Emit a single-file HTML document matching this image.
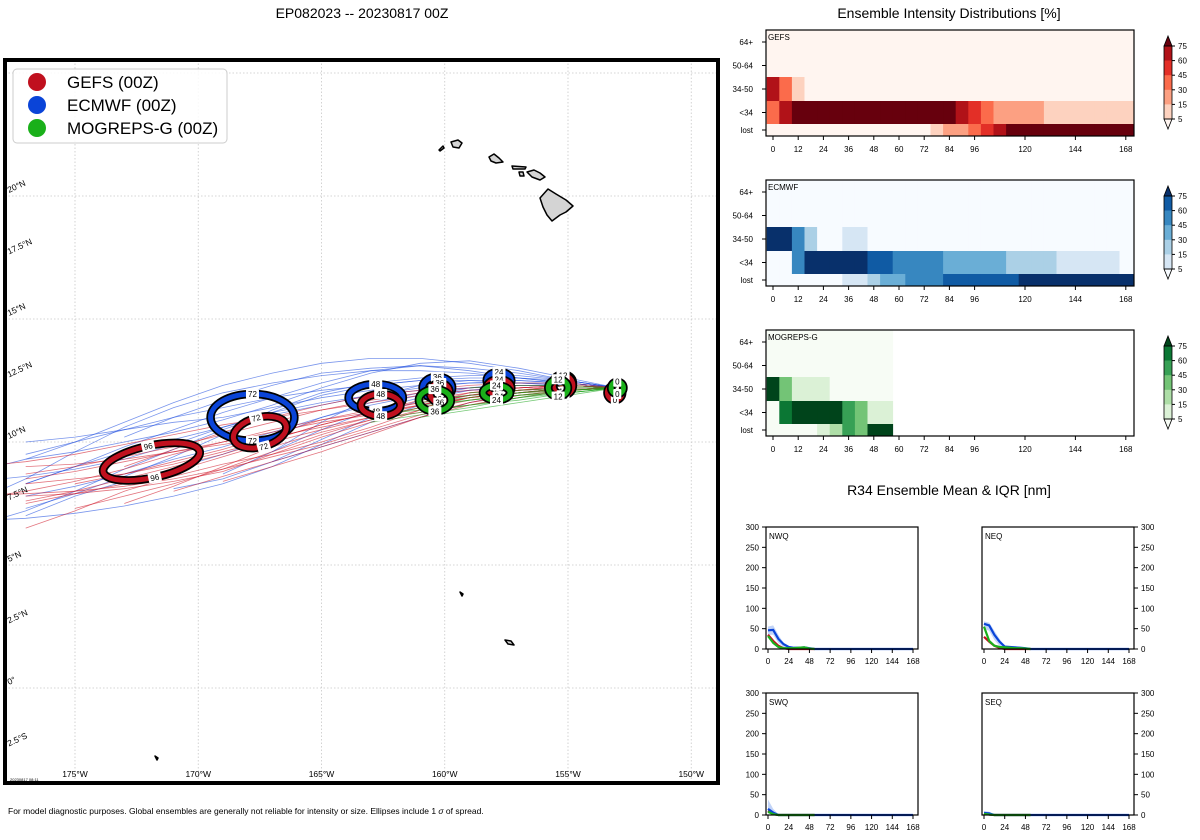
<!DOCTYPE html>
<html><head><meta charset="utf-8">
<style>
html,body{margin:0;padding:0;background:#fff;}
svg{display:block;font-family:"Liberation Sans","DejaVu Sans",sans-serif;}
</style></head>
<body>
<svg id="root" width="1200" height="840" viewBox="0 0 1200 840">
  <rect width="1200" height="840" fill="#fff"/>
  <text x="362" y="18" font-size="14" text-anchor="middle">EP082023 -- 20230817 00Z</text>
  <text x="949" y="18" font-size="14" text-anchor="middle">Ensemble Intensity Distributions [%]</text>
  <text x="949" y="495" font-size="14" text-anchor="middle">R34 Ensemble Mean &amp; IQR [nm]</text>
  <text x="8" y="814" font-size="8.5">For model diagnostic purposes. Global ensembles are generally not reliable for intensity or size. Ellipses include 1 <tspan font-style="italic">σ</tspan> of spread.</text>
  <defs><clipPath id="mapclip"><rect x="5" y="60" width="713" height="723"/></clipPath></defs>
  <g id="map"></g>
  <g id="heat"></g>
  <g id="r34"></g>
</svg>
<script>
// ---------------- MAP DATA ----------------
const trackLons = [-153,-155,-157,-159,-161,-163,-165,-167,-169,-171,-173,-175,-177,-179];
const gefsTracks = [
 [12.2,12.3,12.2,12.0,11.7,11.2,10.7,10.1,9.5,9.0,8.5,8.0,7.6],
 [12.2,12.2,12.0,11.8,11.4,10.9,10.3,9.6,8.9,8.3,7.8,7.3],
 [12.2,12.3,12.3,12.2,12.0,11.7,11.3,10.8,10.3,9.8,9.4,9.0,8.7],
 [12.2,12.1,11.9,11.5,11.0,10.4,9.8,9.2,8.6,8.0],
 [12.2,12.3,12.1,11.9,11.6,11.2,10.9,10.5,10.0,9.6,9.2,8.8,8.5],
 [12.2,12.2,12.1,11.8,11.3,10.6,10.0,9.5,9.1,8.6,8.0,7.2,6.5],
 [12.2,12.4,12.4,12.3,12.1,11.9,11.5,11.0,10.4,9.7,9.0],
 [12.2,12.2,12.0,11.7,11.3,10.8,10.2,9.5,8.8,8.4,8.1,7.9,7.8],
 [12.2,12.3,12.2,12.0,11.5,11.0,10.6,10.2,9.9,9.6,9.3,9.1,9.0],
 [12.2,12.1,11.8,11.5,11.2,10.9,10.4,9.8,9.0,8.2,7.5],
 [12.2,12.2,12.1,11.9,11.6,11.3,10.9,10.3,9.7,9.2,8.7,8.3],
 [12.2,12.3,12.1,11.8,11.4,11.0,10.5,10.0,9.4,8.8,8.3,7.9,7.5],
 [12.2,12.1,11.9,11.6,11.1,10.5,9.9,9.4,8.9,8.5,8.2,8.0,7.9,7.8],
 [12.2,12.3,12.2,12.1,11.9,11.6,11.3,11.0,10.7,10.3,9.9,9.5,9.2,9.0],
 [12.2,12.2,12.0,11.6,11.0,10.3,9.6,9.0,8.4],
 [12.2,12.3,12.2,11.9,11.5,11.1,10.8,10.4,10.0,9.5,8.9,8.4,8.0,7.7],
 [12.2,12.1,12.0,11.8,11.5,11.2,10.7,10.1,9.6,9.1,8.7,8.5,8.3]
];
const ecmwfTracks = [
 [12.2,12.5,12.6,12.6,12.5,12.3,12.1,11.8,11.4,11.0,10.5,10.0,9.5],
 [12.2,12.4,12.6,12.9,13.1,13.0,12.8,12.3,11.7,11.0,10.2],
 [12.2,12.3,12.2,12.1,11.9,11.5,11.0,10.4,9.8,9.3,8.7,8.2,7.8],
 [12.2,12.5,12.8,13.0,13.1,12.9,12.4,11.8,11.2,10.5,9.8,9.0,8.3],
 [12.2,12.3,12.3,12.2,12.0,11.6,11.0,10.2,9.5,8.9,8.4,7.8,7.0],
 [12.2,12.4,12.4,12.2,11.8,11.3,10.5,9.6,8.7],
 [12.2,12.6,13.0,13.3,13.2,12.8,12.2,11.5,10.9,10.4,10.0,9.6,9.3],
 [12.2,12.3,12.4,12.4,12.3,12.1,11.8,11.4,11.0,10.8,10.5,10.2,10.0],
 [12.2,12.2,12.0,11.6,11.0,10.4,9.8,9.2],
 [12.2,12.4,12.5,12.4,12.2,11.9,11.5,11.1,10.6,10.1,9.6,9.0,8.3],
 [12.2,12.5,12.7,12.7,12.6,12.4,12.0,11.3,10.3,9.4,8.6,7.9,7.3],
 [12.2,12.3,12.3,12.1,11.7,11.0,10.1,9.2,8.5,8.1],
 [12.2,12.4,12.6,12.8,12.9,12.9,12.7,12.4,12.0,11.4,10.6,9.6,8.5,7.6],
 [12.2,12.3,12.4,12.5,12.5,12.3,11.9,11.2,10.5,9.7,8.9,8.0,7.2,6.6],
 [12.2,12.2,12.1,11.9,11.5,10.8,9.9,9.0,8.3,7.8,7.4,7.1,6.9,6.8],
 [12.2,12.5,12.9,13.2,13.4,13.4,13.2,12.8,12.3,11.6,10.8,10.0,9.3,8.8],
 [12.2,12.3,12.3,12.2,12.1,11.9,11.6,11.2,10.6,9.9,9.3,8.9,8.6,8.4],
 [12.2,12.4,12.5,12.5,12.3,11.8,10.8,9.6]
];
const mogTracks = [
 [12.2,12.1,12.0,11.8,11.6],
 [12.2,12.0,11.8,11.5,11.2,10.9],
 [12.2,12.2,12.1,12.0],
 [12.2,11.9,11.6,11.3,11.0],
 [12.2,12.1,11.9,11.7,11.4,11.0],
 [12.2,12.3,12.3,12.2],
 [12.2,12.0,11.9,11.7,11.5],
 [12.2,12.1,11.8,11.4,11.1,10.8],
 [12.2,12.2,12.0,11.9,11.7],
 [12.2,12.0,11.7,11.5,11.3,11.1]
];
const gefsEllHours = [0,12,24,36,48,72,96];
const gefsEllLon = [-153.1,-155.2,-157.8,-160.2,-162.6,-167.5,-171.9];
const gefsEllLat = [12.0,12.3,12.2,12.0,11.5,10.4,9.2];
const gefsEllRx = [0.3,0.4,0.5,0.4,0.8,1.1,2.0];
const gefsEllRy = [0.3,0.4,0.35,0.4,0.45,0.6,0.65];
const gefsEllAng = [0,0,0,0,0,-15,-12];
const ecEllHours = [12,24,36,48,72];
const ecEllLon = [-155.2,-157.8,-160.3,-162.8,-167.8];
const ecEllLat = [12.4,12.5,12.2,11.8,11.0];
const ecEllRx = [0.4,0.5,0.6,1.1,1.7];
const ecEllRy = [0.35,0.35,0.45,0.55,0.95];
const ecEllAng = [0,0,0,0,0];
const mogEllHours = [0,12,24,36];
const mogEllLon = [-153.0,-155.4,-157.9,-160.4];
const mogEllLat = [12.2,12.2,12.0,11.7];
const mogEllRx = [0.25,0.4,0.55,0.65];
const mogEllRy = [0.25,0.35,0.3,0.45];
const mogEllAng = [0,0,0,0];
const lonTicks = [-175,-170,-165,-160,-155,-150];
const lonTickLabels = ["175°W","170°W","165°W","160°W","155°W","150°W"];
const latTicks = [20,17.5,15,12.5,10,7.5,5,2.5,0,-2.5];
const latTickLabels = ["20°N","17.5°N","15°N","12.5°N","10°N","7.5°N","5°N","2.5°N","0°","2.5°S"];
const latGrid = [0,5,10,15,20,25];

// ---------------- HEATMAP DATA ----------------
const hmHours = [0,6,12,18,24,30,36,42,48,54,60,66,72,78,84,90,96,102,108,114,120,126,132,138,144,150,156,162,168];
const hmRowLabels = ["64+","50-64","34-50","<34","lost"];
const hmXTicks = [0,12,24,36,48,60,72,84,96,120,144,168];
const cbLevels = [5,15,30,45,60,75];
const Z29 = [0,0,0,0,0,0,0,0,0,0,0,0,0,0,0,0,0,0,0,0,0,0,0,0,0,0,0,0,0];
const gefs64 = Z29, gefs50 = Z29;
const gefs34 = [65,35,10,0,0,0,0,0,0,0,0,0,0,0,0,0,0,0,0,0,0,0,0,0,0,0,0,0,0];
const gefsTS = [35,65,80,80,80,80,80,80,80,80,80,80,80,80,80,65,50,35,20,20,20,20,10,10,10,10,10,10,10];
const gefsLost = [0,0,0,0,0,0,0,0,0,0,0,0,0,10,20,20,35,50,65,80,80,80,80,80,80,80,80,80,80];
const ec64 = Z29, ec50 = Z29;
const ec34 = [80,80,50,20,0,0,10,10,0,0,0,0,0,0,0,0,0,0,0,0,0,0,0,0,0,0,0,0,0];
const ecTS = [0,0,50,80,80,80,80,80,65,65,50,50,50,50,35,35,35,35,35,20,20,20,20,10,10,10,10,10,0];
const ecLost = [0,0,0,0,0,0,10,10,20,35,35,50,50,50,65,65,65,65,65,65,80,80,80,80,80,80,80,80,80];
const mog64 = [0,0,0,0,0,0,0,0,0,0];
const mog50 = [0,0,0,0,0,0,0,0,0,0];
const mog34 = [80,35,10,10,10,0,0,0,0,0];
const mogTS = [0,65,80,80,80,80,50,35,10,10];
const mogLost = [0,0,0,0,10,20,50,35,80,80];

// ---------------- R34 DATA ----------------
const r34Hours = [0,6,12,18,24,30,36,42,48,54,60,66,72,78,84,90,96,102,108,114,120,126,132,138,144,150,156,162,168];
const r34YTicks = [0,50,100,150,200,250,300];
const r34XTicks = [0,24,48,72,96,120,144,168];
const nwqEc = [46,47,25,12,5,3,3,4,2,0,0,0,0,0,0,0,0,0,0,0,0,0,0,0,0,0,0,0,0];
const nwqEcHi = [55,58,35,15,6,4,4,5,3,0,0,0,0,0,0,0,0,0,0,0,0,0,0,0,0,0,0,0,0];
const nwqEcLo = [35,35,15,5,2,1,1,1,0,0,0,0,0,0,0,0,0,0,0,0,0,0,0,0,0,0,0,0,0];
const nwqGefs = [35,20,8,2,0,0,0,0,0,0];
const nwqMog = [32,15,5,2,2,2,3,4,1,0];
const neqEc = [62,58,35,18,6,5,4,3,2,0,0,0,0,0,0,0,0,0,0,0,0,0,0,0,0,0,0,0,0];
const neqEcHi = [68,65,45,25,8,6,5,4,3,0,0,0,0,0,0,0,0,0,0,0,0,0,0,0,0,0,0,0,0];
const neqEcLo = [50,45,22,8,3,2,2,1,0,0,0,0,0,0,0,0,0,0,0,0,0,0,0,0,0,0,0,0,0];
const neqGefs = [30,18,8,3,0,0,0,0,0,0];
const neqMog = [55,20,8,5,4,3,2,2,1,0];
const swqEc = [15,6,0,0,0,0,0,0,0,0,0,0,0,0,0,0,0,0,0,0,0,0,0,0,0,0,0,0,0];
const swqEcHi = [38,15,2,0,0,0,0,0,0,0,0,0,0,0,0,0,0,0,0,0,0,0,0,0,0,0,0,0,0];
const swqEcLo = [5,0,0,0,0,0,0,0,0,0,0,0,0,0,0,0,0,0,0,0,0,0,0,0,0,0,0,0,0];
const swqGefs = [10,3,0,0,0,0,0,0,0,0];
const swqMog = [8,2,0,0,0,0,0,0,0,0];
const seqEc = [5,4,0,0,0,0,0,0,0,0,0,0,0,0,0,0,0,0,0,0,0,0,0,0,0,0,0,0,0];
const seqEcHi = [10,8,1,0,0,0,0,0,0,0,0,0,0,0,0,0,0,0,0,0,0,0,0,0,0,0,0,0,0];
const seqEcLo = [0,0,0,0,0,0,0,0,0,0,0,0,0,0,0,0,0,0,0,0,0,0,0,0,0,0,0,0,0];
const seqGefs = [4,1,0,0,0,0,0,0,0,0];
const seqMog = [3,1,0,0,0,0,0,0,0,0];

const NS = "http://www.w3.org/2000/svg";
function mk(tag, attrs, parent){ const e=document.createElementNS(NS,tag); for(const k in attrs) e.setAttribute(k,attrs[k]); if(parent) parent.appendChild(e); return e; }
function txt(s, attrs, parent){ const e=mk("text",attrs,parent); e.textContent=s; return e; }

// ================= MAP =================
const map = document.getElementById("map");
const lonX = lon => 75 + (lon+175)*24.65;
const latY = lat => 688 - lat*24.6;
const mg = mk("g",{"clip-path":"url(#mapclip)"},map);
lonTicks.forEach(l=>{ const e=mk("line",{x1:lonX(l),x2:lonX(l),y1:60,y2:783,stroke:"#c8c8c8","stroke-width":0.8,"stroke-dasharray":"1.5,2"},mg);
 
  });
latGrid.forEach(l=>{ const e=mk("line",{x1:5,x2:718,y1:latY(l),y2:latY(l),stroke:"#c8c8c8","stroke-width":0.8,"stroke-dasharray":"1.5,2"},mg);
 
  });
const islands = [
 "M540,198 L548,189 L556,194 L566,200 L573,206 L566,212 L560,215 L552,221 L547,215 L543,207 Z",
 "M527,172 L534,170 L540,173 L545,177 L540,180 L532,177 Z",
 "M512,166 L526,167 L525,169 L513,169 Z",
 "M519,172 L523,172 L524,176 L520,176 Z",
 "M489,157 L494,154 L499,158 L503,162 L496,163 L491,161 Z",
 "M451,142 L458,140 L462,143 L459,148 L453,147 Z",
 "M439,150 L443,146 L444,148 L440,151 Z",
 "M460,592 L463,594 L462,596 Z",
 "M505,640 L511,641 L514,645 L508,644 Z",
 "M155,756 L158,758 L157,760 Z"
];
islands.forEach(d=>{ const e=mk("path",{d:d,fill:"#d4d4d4",stroke:"#000","stroke-width":1.5,"stroke-linejoin":"round"},mg);
 
  });
function drawTracks(tracks,color,name){
 tracks.forEach(t=>{ const pts=t.map((lat,i)=>lonX(trackLons[i]).toFixed(1)+","+latY(lat).toFixed(1)).join(" ");
  const e=mk("polyline",{points:pts,fill:"none",stroke:color,"stroke-width":0.8,"stroke-opacity":0.6},mg);
  
   });
}
drawTracks(ecmwfTracks,"#1f4fe0","ecmwf-member-track");
drawTracks(gefsTracks,"#d0192a","gefs-member-track");
drawTracks(mogTracks,"#1aa51a","mogreps-member-track");
const degPx = 24.65;
function drawEll(hours,lons,lats,rxs,rys,angs,color,name){
 hours.forEach((h,i)=>{ const cx=lonX(lons[i]), cy=latY(lats[i]), rx=rxs[i]*degPx, ry=rys[i]*degPx;
  const g=mk("g",{transform:`rotate(${angs[i]} ${cx} ${cy})`},mg);
  
  
  mk("ellipse",{cx:cx,cy:cy,rx:rx,ry:ry,fill:"none",stroke:"#000","stroke-width":8.5},g);
  mk("ellipse",{cx:cx,cy:cy,rx:rx,ry:ry,fill:"none",stroke:color,"stroke-width":5},g);
  [cy-ry, cy+ry].forEach(yy=>{
   const s=String(h), w=s.length*5+3;
   mk("rect",{x:cx-w/2,y:yy-5,width:w,height:10,fill:"#fff",rx:1},g);
   const t=txt(s,{x:cx,y:yy+3,"font-size":8,"text-anchor":"middle",fill:"#000"},g);
   
   
  });
 });
}
drawEll(ecEllHours,ecEllLon,ecEllLat,ecEllRx,ecEllRy,ecEllAng,"#0a44d8","ecmwf-mean-ellipse");
drawEll(gefsEllHours,gefsEllLon,gefsEllLat,gefsEllRx,gefsEllRy,gefsEllAng,"#c0101e","gefs-mean-ellipse");
drawEll(mogEllHours,mogEllLon,mogEllLat,mogEllRx,mogEllRy,mogEllAng,"#1ab01a","mogreps-mean-ellipse");
lonTicks.forEach((l,i)=>{ const t=txt(lonTickLabels[i],{x:lonX(l),y:777,"font-size":8.5,"text-anchor":"middle"},map);
 
  });
latTicks.forEach((l,i)=>{ const y=latY(l)-3; const t=txt(latTickLabels[i],{x:9,y:y,"font-size":8.5,transform:`rotate(-25 9 ${y})`},map);
 
  });
txt("20230817 08:11",{x:10,y:781,"font-size":4},map);
const frame=mk("rect",{x:5,y:60,width:713,height:723,fill:"none",stroke:"#000","stroke-width":4},map);


const lg=mk("g",{},map);


mk("rect",{x:13,y:69,width:214,height:74,rx:4,fill:"#fff","fill-opacity":0.85,stroke:"#ccc"},lg);
[["GEFS (00Z)","#c0101e",82],["ECMWF (00Z)","#0a44d8",105],["MOGREPS-G (00Z)","#1ab01a",128]].forEach(e=>{
 const it=mk("g",{},lg);
 
 
 mk("circle",{cx:37,cy:e[2],r:9,fill:e[1]},it);
 txt(e[0],{x:67,y:e[2]+6,"font-size":17},it);
});

// ================= HEATMAPS =================
const heat=document.getElementById("heat");
const hx = h => 773 + h*2.1;
const rowEdges=[0,24,47,71,94,106];
const palettes={
 gefs:["#fff5f0","#fdd2bf","#fca082","#fb6b4b","#e32f27","#b11218","#67000d"],
 ec:["#f7fbff","#d6e6f4","#abd0e6","#6aaed6","#3787c0","#105ba4","#08306b"],
 mog:["#f7fcf5","#dbf1d6","#aedea7","#73c476","#37a055","#0b7734","#00441b"]
};
function bin(v){ let b=0; cbLevels.forEach((l,i)=>{ if(v>=l) b=i+1; }); return b; }
function heatPanel(top,label,rows,pal,name){
 const g=mk("g",{},heat);
 
 
 rows.forEach((row,r)=>{
  row.forEach((v,c)=>{
   const h=hmHours[c]; const x0=Math.max(766,hx(h-3)); const x1=(h===168)?1134:hx(h+3);
   const cell=mk("rect",{x:x0,y:top+rowEdges[r],width:x1-x0+0.4,height:rowEdges[r+1]-rowEdges[r]+0.4,fill:pal[bin(v)]},g);
   
   
  });
 });
 mk("rect",{x:766,y:top,width:368,height:106,fill:"none",stroke:"#000","stroke-width":1.2},g);
 txt(label,{x:768,y:top+10,"font-size":8},g);
 hmRowLabels.forEach((l,r)=>{ const y=top+(rowEdges[r]+rowEdges[r+1])/2;
  mk("line",{x1:762,x2:766,y1:y,y2:y,stroke:"#000"},g);
  const t=txt(l,{x:753,y:y+3,"font-size":8,"text-anchor":"end"},g);
  
   });
 hmXTicks.forEach(h=>{ mk("line",{x1:hx(h),x2:hx(h),y1:top+106,y2:top+110,stroke:"#000"},g);
  const t=txt(String(h),{x:hx(h),y:top+122,"font-size":8,"text-anchor":"middle"},g);
  
   });
 const cb=mk("g",{},g);
 
 
 const cbTop=top+16, step=14.6, x0=1164, w=8;
 for(let i=0;i<5;i++){ mk("rect",{x:x0,y:cbTop+step*i,width:w,height:step+0.3,fill:pal[5-i]},cb); }
 mk("path",{d:`M${x0},${cbTop} L${x0+w/2},${cbTop-10} L${x0+w},${cbTop} Z`,fill:pal[6],stroke:"#000","stroke-width":0.8},cb);
 mk("path",{d:`M${x0},${cbTop+5*step} L${x0+w/2},${cbTop+5*step+10} L${x0+w},${cbTop+5*step} Z`,fill:pal[0],stroke:"#000","stroke-width":0.8},cb);
 mk("rect",{x:x0,y:cbTop,width:w,height:5*step,fill:"none",stroke:"#000","stroke-width":0.8},cb);
 cbLevels.forEach((l,i)=>{ const y=cbTop+5*step-i*step; mk("line",{x1:x0+w,x2:x0+w+3,y1:y,y2:y,stroke:"#000"},cb);
  txt(String(l),{x:x0+w+6,y:y+3,"font-size":8},cb); });
}
heatPanel(30,"GEFS",[gefs64,gefs50,gefs34,gefsTS,gefsLost],palettes.gefs,"gefs-intensity-heatmap");
heatPanel(180,"ECMWF",[ec64,ec50,ec34,ecTS,ecLost],palettes.ec,"ecmwf-intensity-heatmap");
heatPanel(330,"MOGREPS-G",[mog64,mog50,mog34,mogTS,mogLost],palettes.mog,"mogreps-intensity-heatmap");

// ================= R34 =================
const r34=document.getElementById("r34");
function r34Panel(px,py,label,right,ec,ecHi,ecLo,gefs,mog,name){
 const W=152,H=122; const xs=h=>px+2+h*(W-7)/168; const ys=v=>py+H-v*H/300;
 const g=mk("g",{},r34);
 
 
 const up=ecHi.map((v,i)=>xs(r34Hours[i])+","+ys(v)); const lo=ecLo.map((v,i)=>xs(r34Hours[i])+","+ys(v)).reverse();
 const band=mk("polygon",{points:up.concat(lo).join(" "),fill:"#8fb0f0","fill-opacity":0.55},g);
 
 
 const line=(arr,color,n)=>{ const e=mk("polyline",{points:arr.map((v,i)=>xs(r34Hours[i])+","+ys(v)).join(" "),fill:"none",stroke:color,"stroke-width":2.2},g);
  
   };
 line(gefs,"#c0101e","gefs-r34-mean");
 line(ec,"#0a44d8","ecmwf-r34-mean");
 line(mog,"#1ab01a","mogreps-r34-mean");
 mk("rect",{x:px,y:py,width:W,height:H,fill:"none",stroke:"#000","stroke-width":1.2},g);
 txt(label,{x:px+3,y:py+12,"font-size":8},g);
 r34YTicks.forEach(v=>{ const y=ys(v); const ax=right?px+W:px;
  mk("line",{x1:ax,x2:right?ax+4:ax-4,y1:y,y2:y,stroke:"#000"},g);
  const t=txt(String(v),{x:right?ax+7:ax-7,y:y+3,"font-size":8,"text-anchor":right?"start":"end"},g);
  
   });
 r34XTicks.forEach(h=>{ mk("line",{x1:xs(h),x2:xs(h),y1:py+H,y2:py+H+4,stroke:"#000"},g);
  const t=txt(String(h),{x:xs(h),y:py+H+15,"font-size":8,"text-anchor":"middle"},g);
  
   });
}
r34Panel(766,527,"NWQ",false,nwqEc,nwqEcHi,nwqEcLo,nwqGefs,nwqMog,"r34-nwq-panel");
r34Panel(982,527,"NEQ",true,neqEc,neqEcHi,neqEcLo,neqGefs,neqMog,"r34-neq-panel");
r34Panel(766,693,"SWQ",false,swqEc,swqEcHi,swqEcLo,swqGefs,swqMog,"r34-swq-panel");
r34Panel(982,693,"SEQ",true,seqEc,seqEcHi,seqEcLo,seqGefs,seqMog,"r34-seq-panel");
</script>
</body></html>
